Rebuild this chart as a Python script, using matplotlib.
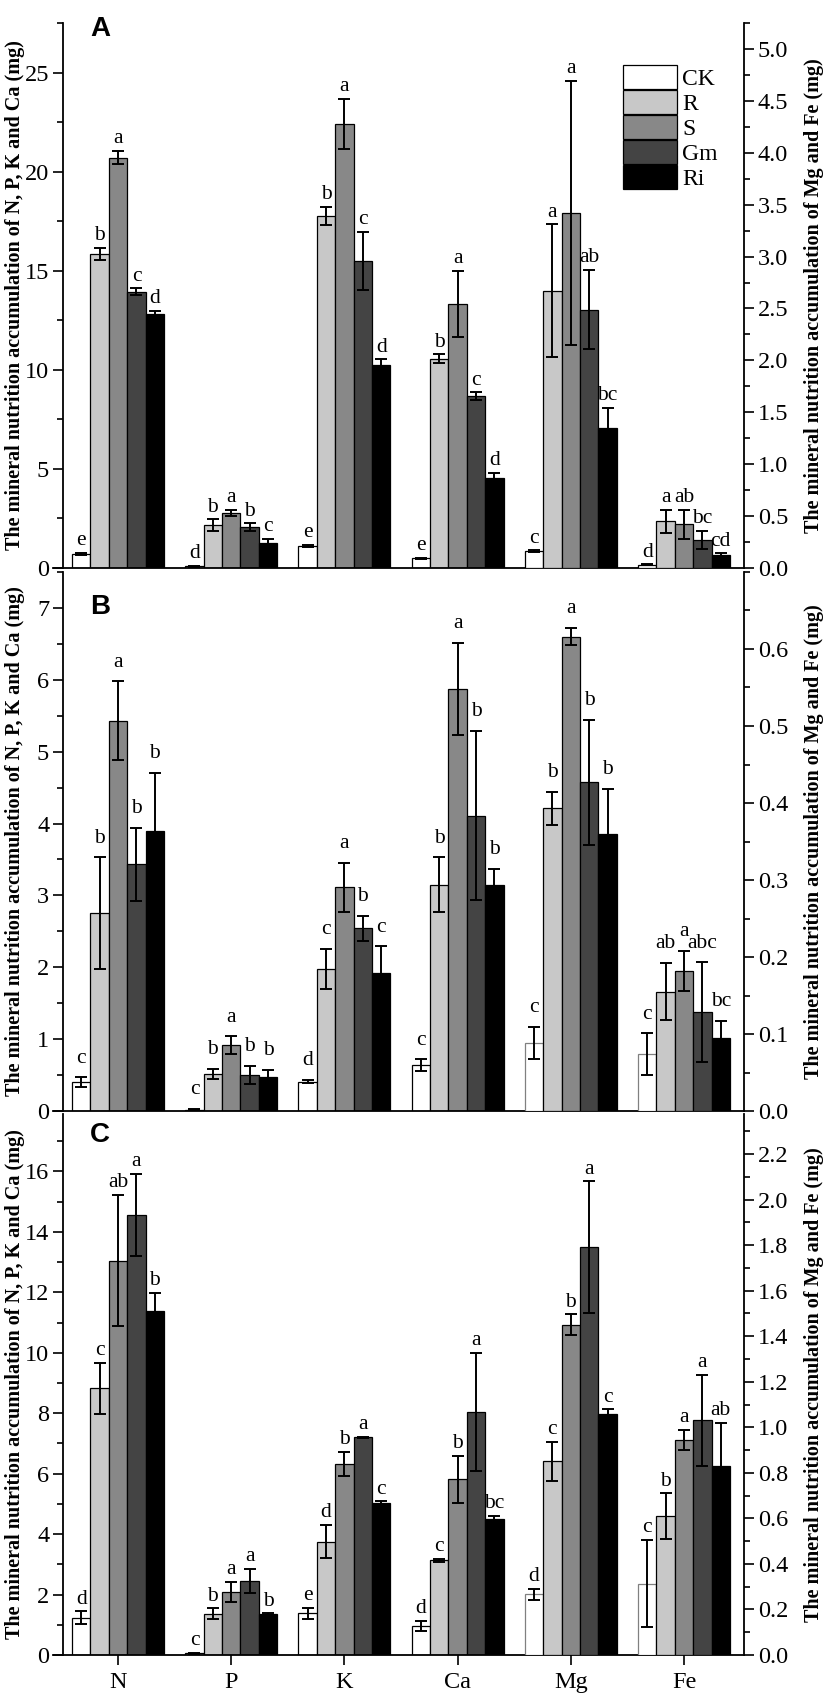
import numpy as np
import matplotlib
matplotlib.use("Agg")
import matplotlib.pyplot as plt
from matplotlib.patches import Patch

plt.rcParams["font.family"] = ["Liberation Serif", "DejaVu Serif"]

elements = ["N", "P", "K", "Ca", "Mg", "Fe"]
treatments = ["CK", "R", "S", "Gm", "Ri"]
colors = ["#ffffff", "#c8c8c8", "#888888", "#444444", "#000000"]

# rows = elements (N, P, K, Ca on left axis; Mg, Fe on right axis), cols = treatments
a_mean = [[0.72, 15.84, 20.70, 13.95, 12.82],
          [0.08, 2.15, 2.77, 2.05, 1.25],
          [1.12, 17.77, 22.40, 15.50, 10.26],
          [0.48, 10.55, 13.33, 8.66, 4.55],
          [0.16, 2.67, 3.42, 2.49, 1.35],
          [0.03, 0.45, 0.42, 0.27, 0.13]]
a_err = [[0.05, 0.30, 0.33, 0.16, 0.14],
         [0.02, 0.30, 0.17, 0.20, 0.22],
         [0.06, 0.45, 1.26, 1.45, 0.27],
         [0.04, 0.23, 1.65, 0.20, 0.24],
         [0.01, 0.64, 1.27, 0.38, 0.19],
         [0.005, 0.11, 0.14, 0.09, 0.01]]
a_letters = [["e", "b", "a", "c", "d"],
             ["d", "b", "a", "b", "c"],
             ["e", "b", "a", "c", "d"],
             ["e", "b", "a", "c", "d"],
             ["c", "a", "a", "ab", "bc"],
             ["d", "a", "ab", "bc", "cd"]]

b_mean = [[0.40, 2.75, 5.43, 3.43, 3.90],
          [0.02, 0.52, 0.92, 0.50, 0.48],
          [0.41, 1.98, 3.11, 2.54, 1.92],
          [0.64, 3.15, 5.87, 4.11, 3.14],
          [0.088, 0.393, 0.616, 0.427, 0.36],
          [0.074, 0.155, 0.182, 0.128, 0.095]]
b_err = [[0.07, 0.78, 0.55, 0.51, 0.81],
         [0.01, 0.07, 0.12, 0.13, 0.09],
         [0.02, 0.28, 0.34, 0.18, 0.37],
         [0.08, 0.38, 0.64, 1.18, 0.23],
         [0.021, 0.021, 0.011, 0.081, 0.058],
         [0.027, 0.037, 0.026, 0.065, 0.022]]
b_letters = [["c", "b", "a", "b", "b"],
             ["c", "b", "a", "b", "b"],
             ["d", "c", "a", "b", "c"],
             ["c", "b", "a", "b", "b"],
             ["c", "b", "a", "b", "b"],
             ["c", "ab", "a", "abc", "bc"]]

c_mean = [[1.24, 8.82, 13.05, 14.55, 11.37],
          [0.06, 1.36, 2.08, 2.45, 1.35],
          [1.38, 3.75, 6.32, 7.20, 5.02],
          [0.96, 3.13, 5.82, 8.04, 4.50],
          [0.266, 0.85, 1.45, 1.79, 1.057],
          [0.314, 0.61, 0.945, 1.03, 0.83]]
c_err = [[0.20, 0.85, 2.18, 1.36, 0.60],
         [0.02, 0.18, 0.34, 0.40, 0.03],
         [0.19, 0.55, 0.40, 0.02, 0.06],
         [0.18, 0.05, 0.78, 1.95, 0.10],
         [0.026, 0.085, 0.046, 0.29, 0.022],
         [0.19, 0.10, 0.044, 0.20, 0.19]]
c_letters = [["d", "c", "ab", "a", "b"],
             ["c", "b", "a", "a", "b"],
             ["e", "d", "b", "a", "c"],
             ["d", "c", "b", "a", "bc"],
             ["d", "c", "b", "a", "c"],
             ["c", "b", "a", "a", "ab"]]

left_label = "The mineral nutrition accumulation of N, P, K and Ca (mg)"
right_label = "The mineral nutrition accumulation of Mg and Fe (mg)"

W, H = 827, 1696
fig = plt.figure(figsize=(W / 100, H / 100), dpi=100)

panels = [
    # name, mean, err, letters, (top px, bottom px), left lim, left ticks, right lim, right ticks, letter offset, label y px
    ("A", a_mean, a_err, a_letters, (23, 568), 27.5, (25, 5, 2.5), 5.25, (5.0, 0.5, 0.25), 2, 29),
    ("B", b_mean, b_err, b_letters, (572, 1111), 7.5, (7, 1, 0.5), 0.70, (0.6, 0.1, 0.05), 7, 607),
    ("C", c_mean, c_err, c_letters, (1114, 1655), 17.9, (16, 2, 1), 2.376, (2.2, 0.2, 0.1), 2, 1135),
]

x_left_px, x_right_px = 53, 744
bar_w = 0.1625
n_el = len(elements)

for k, (name, mean, err, letters, (top, bot), ltop, lt, rtop, rt, loff, ly) in enumerate(panels):
    ax = fig.add_axes([x_left_px / W, 1 - bot / H, (x_right_px - x_left_px) / W, (bot - top) / H])
    axr = ax.twinx()
    for i in range(n_el):
        target = ax if i < 4 else axr
        for j in range(len(treatments)):
            x = i + (j - 2) * bar_w
            edge = "black"
            if k > 0 and i >= 4 and j == 0:
                edge = "#808080"
            target.bar(x, mean[i][j], width=bar_w, color=colors[j], edgecolor=edge, linewidth=0.9, zorder=2)
            target.errorbar(x, mean[i][j], yerr=err[i][j], fmt="none", ecolor="black",
                            elinewidth=1.4, capsize=4.5, capthick=1.4, zorder=3)
            target.annotate(letters[i][j], (x, mean[i][j] + err[i][j]), xytext=(0, loff),
                            textcoords="offset points", ha="center", va="bottom", fontsize=15.5)

    ax.set_xlim(-0.575, 5.53)
    ax.set_ylim(0, ltop)
    axr.set_ylim(0, rtop)

    ax.spines["left"].set_position(("data", -0.486))
    for a in (ax, axr):
        a.spines["top"].set_visible(False)
        for s in a.spines.values():
            s.set_linewidth(1.3)
    axr.spines["left"].set_visible(False)
    axr.spines["bottom"].set_visible(False)
    ax.spines["right"].set_visible(False)

    lmax, lstep, lminor = lt
    ax.set_yticks(np.arange(0, lmax + 1e-9, lstep))
    ax.set_yticks(np.arange(0, ltop + 1e-9, lminor), minor=True)
    ax.set_yticklabels([f"{v:g}" for v in np.arange(0, lmax + 1e-9, lstep)])
    rmax, rstep, rminor = rt
    axr.set_yticks(np.arange(0, rmax + 1e-9, rstep))
    axr.set_yticks(np.arange(0, rtop + 1e-9, rminor), minor=True)
    axr.set_yticklabels([f"{v:.1f}" for v in np.arange(0, rmax + 1e-9, rstep)])

    for a in (ax, axr):
        a.tick_params(axis="y", which="major", length=7, width=1.2, labelsize=17.5, direction="out", pad=3)
        a.tick_params(axis="y", which="minor", length=4, width=1.2, direction="out")

    if name == "C":
        ax.set_xticks(range(n_el))
        ax.set_xticklabels(elements)
        ax.tick_params(axis="x", length=7, width=1.2, labelsize=17.5, direction="out", pad=5)
    else:
        ax.set_xticks([])

    # left label: anchored at its right side; right label: anchored at its left side
    ax.set_ylabel(left_label, fontsize=14.5, fontweight="bold")
    ax.yaxis.set_label_coords((25 - x_left_px) / (x_right_px - x_left_px), 0.5)
    axr.set_ylabel(right_label, fontsize=14.5, fontweight="bold", rotation=90)
    axr.yaxis.set_label_coords((804 - x_left_px) / (x_right_px - x_left_px), 0.5)

    fig.text(100 / W, 1 - ly / H, name, fontsize=20, fontweight="bold",
             family="Liberation Sans", ha="center", va="center")

    if name == "A":
        handles = [Patch(facecolor=c, edgecolor="black", linewidth=0.9) for c in colors]
        fig.legend(handles, treatments, loc="upper left", bbox_to_anchor=(623 / W, 1 - 65 / H),
                   bbox_transform=fig.transFigure, frameon=False, fontsize=17,
                   handlelength=2.3, handleheight=1.2, labelspacing=0, handletextpad=0.2,
                   borderpad=0, borderaxespad=0)

fig.savefig("out.png", dpi=100)
